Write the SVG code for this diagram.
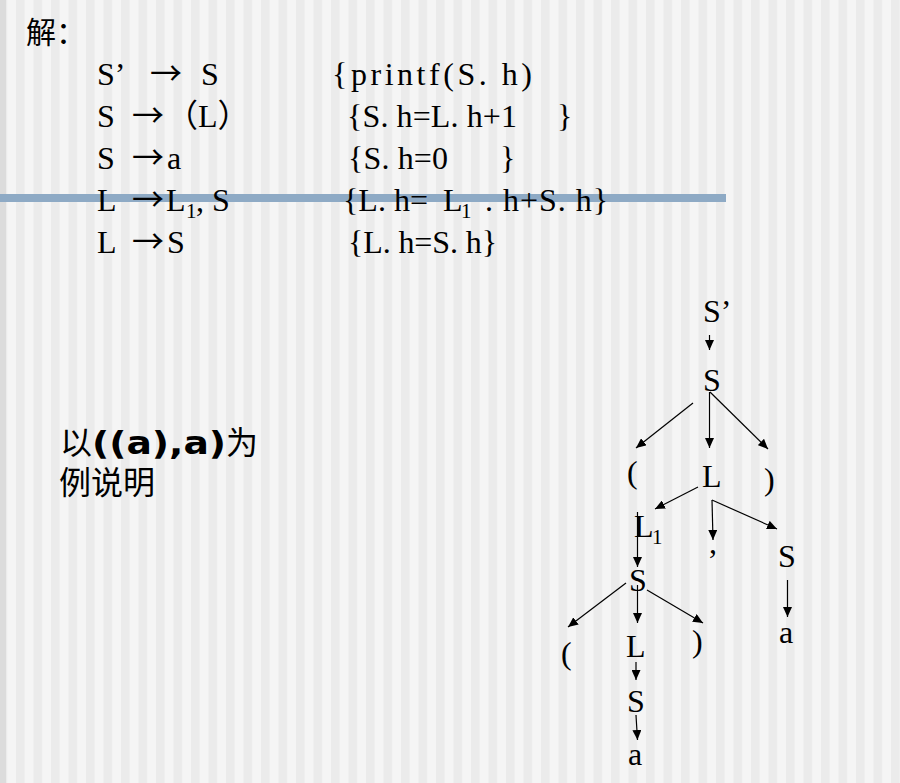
<svg xmlns="http://www.w3.org/2000/svg" width="900" height="783" viewBox="0 0 900 783">
<defs>
<pattern id="stripes" x="16" y="0" width="17.5" height="783" patternUnits="userSpaceOnUse">
<rect x="0" y="0" width="17.5" height="783" fill="#f5f5f5"/>
<rect x="0" y="0" width="8.5" height="783" fill="#ebebeb"/>
</pattern>
<marker id="ah" markerWidth="10" markerHeight="9" refX="10" refY="4.5" orient="auto" markerUnits="userSpaceOnUse">
<path d="M0,0 L10,4.5 L0,9 z" fill="#000"/>
</marker>
<style>
.t{font-family:"Liberation Serif","Noto Sans CJK SC",serif;font-size:32px;fill:#000}
.ar{font-family:"Noto Sans CJK SC",sans-serif;font-size:32px;fill:#000}
.cjk{font-family:"Noto Sans CJK SC",sans-serif;fill:#000}
.b{font-family:"DejaVu Sans","Noto Sans CJK SC",sans-serif;font-weight:bold}
.sub{font-size:21px}
.c line{stroke:#000;stroke-width:1.2;marker-end:url(#ah)}
</style>
</defs>
<rect width="900" height="783" fill="url(#stripes)"/>
<rect x="0" y="0" width="6" height="783" fill="#dcdcdc"/>
<rect x="0" y="194" width="726" height="8" fill="#8eaac5"/>

<g id="title"><text class="cjk" x="26" y="43" font-size="30">解：</text></g>

<g id="rules">
<g id="r1"><text class="t" x="97" y="85">S’</text><text class="ar" x="150" y="85">→</text><text class="t" x="201" y="85">S</text><text class="t" x="332" y="85" textLength="200" lengthAdjust="spacing">{printf(S. h)</text></g>
<g id="r2"><text class="t" x="97" y="127">S</text><text class="ar" x="132" y="127">→</text><text class="t" x="166" y="127">（L）</text><text class="t" x="347" y="127" textLength="170" lengthAdjust="spacing">{S. h=L. h+1</text><text class="t" x="557" y="127">}</text></g>
<g id="r3"><text class="t" x="97" y="169">S</text><text class="ar" x="132" y="169">→</text><text class="t" x="167" y="169">a</text><text class="t" x="348" y="169" textLength="100" lengthAdjust="spacing">{S. h=0</text><text class="t" x="500" y="169">}</text></g>
<g id="r4"><text class="t" x="97" y="211">L</text><text class="ar" x="132" y="211">→</text><text class="t" x="166" y="211">L</text><text class="t sub" x="186" y="218">1</text><text class="t" x="196" y="211">, S</text><text class="t" x="343" y="211" textLength="85" lengthAdjust="spacing">{L. h=</text><text class="t" x="443" y="211">L</text><text class="t sub" x="461" y="218">1</text><text class="t" x="485" y="211" textLength="123" lengthAdjust="spacing">. h+S. h}</text></g>
<g id="r5"><text class="t" x="97" y="253">L</text><text class="ar" x="132" y="253">→</text><text class="t" x="167" y="253">S</text><text class="t" x="348" y="253" textLength="149" lengthAdjust="spacing">{L. h=S. h}</text></g>
</g>

<g id="example"><text class="cjk" x="60" y="454" font-size="32">以<tspan class="b" textLength="134" lengthAdjust="spacingAndGlyphs">((a),a)</tspan>为</text><text class="cjk" x="59" y="494" font-size="32">例说明</text></g>

<g id="connectors" class="c">
<line x1="709.5" y1="335" x2="709.5" y2="350"/>
<line x1="693" y1="403" x2="636" y2="448"/>
<line x1="709.5" y1="392" x2="709.5" y2="448"/>
<line x1="710" y1="392" x2="768" y2="449"/>
<line x1="698" y1="487" x2="655" y2="509"/>
<line x1="712" y1="500" x2="713" y2="540"/>
<line x1="712" y1="500" x2="777" y2="529"/>
<line x1="637.5" y1="512" x2="637.5" y2="567"/>
<line x1="787.5" y1="580" x2="787.5" y2="617"/>
<line x1="626" y1="583" x2="568" y2="627"/>
<line x1="637.5" y1="585" x2="637.5" y2="623"/>
<line x1="647" y1="590" x2="703" y2="623"/>
<line x1="636" y1="662" x2="636" y2="680"/>
<line x1="636" y1="715" x2="637.5" y2="740"/>
</g>

<g id="tree">
<g id="n_sp"><text class="t" x="703" y="322">S’</text></g>
<g id="n_s1"><text class="t" x="703" y="391">S</text></g>
<g id="n_lp1"><text class="t" x="627" y="483" font-size="26">(</text></g>
<g id="n_l1"><text class="t" x="702" y="487">L</text></g>
<g id="n_rp1"><text class="t" x="764" y="490" font-size="30">)</text></g>
<g id="n_l1sub"><text class="t" x="634" y="537">L</text><text class="t sub" x="652" y="544">1</text></g>
<g id="n_comma"><text class="t" x="709" y="553" font-size="44">,</text></g>
<g id="n_s2"><text class="t" x="778" y="567">S</text></g>
<g id="n_a2"><text class="t" x="779" y="643" font-size="40">a</text></g>
<g id="n_s3"><text class="t" x="629" y="591">S</text></g>
<g id="n_lp2"><text class="t" x="561" y="664" font-size="24">(</text></g>
<g id="n_l2"><text class="t" x="626" y="657">L</text></g>
<g id="n_rp2"><text class="t" x="692" y="652" font-size="28">)</text></g>
<g id="n_s4"><text class="t" x="627" y="712">S</text></g>
<g id="n_a4"><text class="t" x="628" y="765" font-size="38">a</text></g>
</g>
</svg>
